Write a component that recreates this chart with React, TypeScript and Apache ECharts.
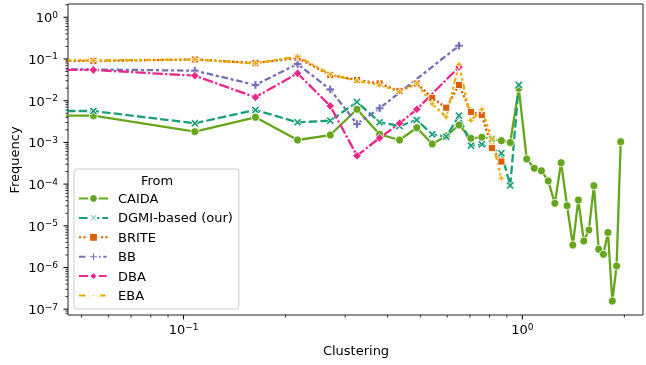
import React, { useEffect, useRef } from 'react';
import * as echarts from 'echarts';

// ---- data ----
// clustering bins (the first bin of each series is at clustering = 0, which a log axis cannot show;
// it is placed just left of the visible range so the line runs in from the left edge)
const ZERO_BIN_X = 0.01;
const X_BINS = [
  0.0542, 0.108, 0.163, 0.217, 0.271, 0.325, 0.379, 0.434, 0.488, 0.542, 0.596, 0.650,
  0.705, 0.759, 0.813, 0.867, 0.921, 0.976, 1.03, 1.084, 1.138, 1.192, 1.247, 1.301,
  1.355, 1.409, 1.463, 1.518, 1.572, 1.626, 1.680, 1.734, 1.789, 1.843, 1.897, 1.951,
];

const CAIDA = [
  0.00437, 0.00181, 0.0040, 0.00114, 0.0015, 0.00622, 0.00156, 0.00114, 0.00225, 0.000915,
  0.00142, 0.00261, 0.00125, 0.00133, 0.00121, 0.0011, 0.000995, 0.0198, 0.0004, 0.000239,
  0.000208, 0.000119, 3.46e-5, 0.000326, 3.03e-5, 3.46e-6, 4.16e-5, 4.32e-6, 7.93e-6, 9.15e-5,
  2.73e-6, 2.07e-6, 6.91e-6, 1.57e-7, 1.09e-6, 0.00104,
];
const DGMI = [
  0.00566, 0.00287, 0.00598, 0.00303, 0.00331, 0.0093, 0.00303, 0.00247, 0.00345, 0.00156,
  0.00137, 0.00437, 0.000834, 0.0009, null, 0.000548, 9.26e-5, 0.0238,
];
const BRITE = [
  0.0896, 0.097, 0.0802, 0.1057, 0.0413, 0.0313, 0.0258, 0.0171, 0.0258, 0.0116, 0.0068,
  0.0238, 0.00536, 0.00454, 0.000734, 0.000348,
];
const BB = [0.056, 0.0524, 0.0238, 0.0759, 0.0186, 0.00276, 0.00657, null, null, null, null, 0.2084];
const DBA = [0.0545, 0.0398, 0.0121, 0.0454, 0.00746, 0.00048, 0.00128, 0.00287, 0.00622, null, null, 0.0643];
const EBA = [
  0.0921, 0.0973, 0.078, 0.1148, 0.043, 0.0297, 0.0238, 0.0164, 0.0258, 0.00834, 0.00406,
  0.0746, 0.00335, 0.00622, 0.00121, 0.000138,
];

const SERIES_NAMES = ['CAIDA', 'DGMI-based (our)', 'BRITE', 'BB', 'DBA', 'EBA'];
const SERIES_VALUES = [CAIDA, DGMI, BRITE, BB, DBA, EBA];

const X_TITLE = 'Clustering';
const Y_TITLE = 'Frequency';
const LEGEND_TITLE = 'From';

// axis range
const X_MIN = 0.0456;
const X_MAX = 2.27;
const Y_MIN = 7.26e-8;
const Y_MAX = 2.08;
const X_DECADES = [-2, -1, 0];
const Y_DECADES = [-8, -7, -6, -5, -4, -3, -2, -1, 0];

// ---- styles ----
const FONT = 'DejaVu Sans';
const COLORS = ['#66a61e', '#1b9e77', '#d95f02', '#7570b3', '#e7298a', '#e6ab02'];
const DASHES: any[] = ['solid', [8.5, 3.2], [2.2, 2.2], [6.5, 2.7, 3.2, 2.7], [10.5, 2.2, 2.2, 2.2], [6.5, 2.7, 2.7, 2.7, 2.7, 2.7]];
const SYMBOLS = [
  'circle',
  'path://M2,0 L5,3 L8,0 L10,2 L7,5 L10,8 L8,10 L5,7 L2,10 L0,8 L3,5 L0,2 Z',
  'rect',
  'path://M3.3,0 H6.7 V3.3 H10 V6.7 H6.7 V10 H3.3 V6.7 H0 V3.3 H3.3 Z',
  'diamond',
  'path://M5,0 L6.2,3.8 L10,5 L6.2,6.2 L5,10 L3.8,6.2 L0,5 L3.8,3.8 Z',
];
const SYMBOL_SIZES = [8, 8, 7, 8.5, 8.5, 9.5];

function buildMinor(decades: number[], lo: number, hi: number, withMajor: boolean) {
  const out: number[] = [];
  decades.forEach((d) => {
    for (let m = withMajor ? 1 : 2; m <= (withMajor ? 1 : 9); m++) {
      const v = m * Math.pow(10, d);
      if (v >= lo * 0.9999 && v <= hi * 1.0001) out.push(v);
    }
  });
  return out;
}

function supLabel(v: number) {
  const e = Math.log10(v);
  const r = Math.round(e);
  if (Math.abs(e - r) > 1e-6) return '';
  const s = r < 0 ? '\u2212' + -r : String(r);
  return `{b|10}{s|${s}}`;
}

const RICH = {
  b: { fontFamily: FONT, fontSize: 13, color: '#000', lineHeight: 14, verticalAlign: 'bottom' },
  s: { fontFamily: FONT, fontSize: 9, color: '#000', lineHeight: 9, verticalAlign: 'top', padding: [0, 0, 8, 0] },
};

function tickSeries(values: number[], axis: 'x' | 'y', len: number, width: number) {
  return {
    type: 'custom',
    coordinateSystem: 'cartesian2d',
    silent: true,
    clip: false,
    z: 10,
    data: values.map((v) => (axis === 'x' ? [v, Y_MIN] : [X_MIN, v])),
    renderItem: (params: any, api: any) => {
      const p = api.coord([api.value(0), api.value(1)]);
      const shape =
        axis === 'x'
          ? { x1: p[0], y1: p[1], x2: p[0], y2: p[1] + len }
          : { x1: p[0], y1: p[1], x2: p[0] - len, y2: p[1] };
      return { type: 'line', shape, style: { stroke: '#000', lineWidth: width } };
    },
  };
}

export default function App() {
  const ref = useRef<HTMLDivElement>(null);

  useEffect(() => {
    if (!ref.current) return;
    const chart = echarts.init(ref.current, undefined, { renderer: 'svg' });

    const lineSeries = SERIES_NAMES.map((name, i) => {
      const vals = SERIES_VALUES[i];
      const data: any[] = [[ZERO_BIN_X, vals[0]]];
      vals.forEach((v, k) => {
        if (v != null) data.push([X_BINS[k], v]);
      });
      return {
        type: 'line',
        name,
        data,
        symbol: SYMBOLS[i],
        symbolSize: SYMBOL_SIZES[i],
        clip: true,
        connectNulls: true,
        z: 2,
        lineStyle: { width: 2.3, color: COLORS[i], type: DASHES[i] },
        itemStyle: { color: COLORS[i], borderColor: '#ffffff', borderWidth: 0.8 },
        emphasis: { disabled: true },
      };
    });

    const xMajor = buildMinor(X_DECADES, X_MIN, X_MAX, true);
    const xMinor = buildMinor(X_DECADES, X_MIN, X_MAX, false);
    const yMajor = buildMinor(Y_DECADES, Y_MIN, Y_MAX, true);
    const yMinor = buildMinor(Y_DECADES, Y_MIN, Y_MAX, false);

    chart.setOption({
      animation: false,
      grid: {
        left: 68,
        right: 1,
        top: 4,
        bottom: 50,
        show: true,
        borderColor: '#222',
        borderWidth: 1,
        backgroundColor: 'transparent',
      },
      xAxis: {
        type: 'log',
        logBase: 10,
        min: X_MIN,
        max: X_MAX,
        splitLine: { show: false },
        axisLine: { show: false },
        axisTick: { show: false },
        axisLabel: { formatter: supLabel, rich: RICH, margin: 7 },
      },
      yAxis: {
        type: 'log',
        logBase: 10,
        min: Y_MIN,
        max: Y_MAX,
        splitNumber: 8,
        splitLine: { show: false },
        axisLine: { show: false },
        axisTick: { show: false },
        axisLabel: { formatter: supLabel, rich: RICH, margin: 10 },
      },
      legend: {
        data: SERIES_NAMES,
        orient: 'vertical',
        left: 74,
        top: 169,
        itemWidth: 29,
        itemHeight: 11,
        itemGap: 6.4,
        padding: [23, 6, 7, 4],
        backgroundColor: 'rgba(255,255,255,0.8)',
        borderColor: '#cccccc',
        borderWidth: 1,
        borderRadius: 3,
        selectedMode: false,
        textStyle: { fontFamily: FONT, fontSize: 13, color: '#000', lineHeight: 13, padding: [0, 0, 0, 5] },
      },
      graphic: [
        {
          type: 'text',
          z: 100,
          x: 157,
          y: 180,
          style: { text: LEGEND_TITLE, fontFamily: FONT, fontSize: 13, fill: '#000', align: 'center', verticalAlign: 'middle' },
        },
        {
          type: 'text',
          z: 100,
          x: 356,
          y: 350,
          style: { text: X_TITLE, fontFamily: FONT, fontSize: 13, fill: '#000', align: 'center', verticalAlign: 'middle' },
        },
        {
          type: 'text',
          z: 100,
          x: 14,
          y: 160,
          rotation: Math.PI / 2,
          style: { text: Y_TITLE, fontFamily: FONT, fontSize: 13, fill: '#000', align: 'center', verticalAlign: 'middle' },
        },
      ],
      series: [
        ...lineSeries,
        tickSeries(xMajor, 'x', 4.5, 1),
        tickSeries(xMinor, 'x', 2.6, 0.8),
        tickSeries(yMajor, 'y', 4.5, 1),
        tickSeries(yMinor, 'y', 2.6, 0.8),
      ],
    });

    return () => chart.dispose();
  }, []);

  return <div ref={ref} style={{ position: 'fixed', left: 0, top: 0, width: 646, height: 365 }} />;
}
